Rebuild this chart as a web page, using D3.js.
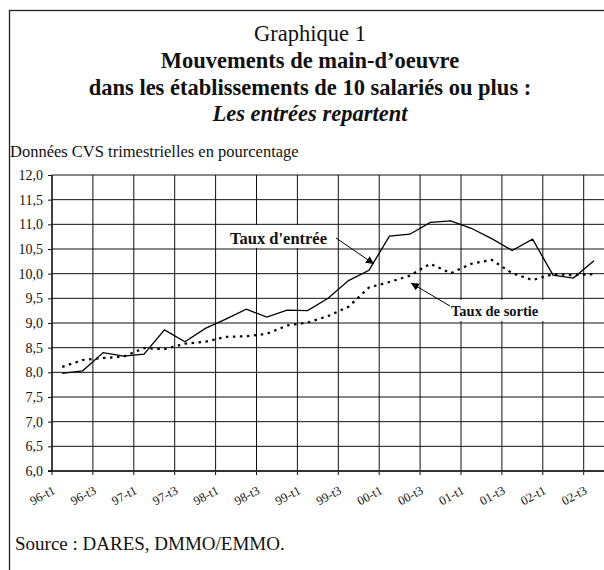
<!DOCTYPE html>
<html>
<head>
<meta charset="utf-8">
<script src="https://cdn.jsdelivr.net/npm/d3@7"></script>
<style>
  body { margin: 0; background: #fff; }
  svg { display: block; font-family: "Liberation Serif", "Times New Roman", serif; }
</style>
</head>
<body>
<div id="chart"></div>
<script>
const quarters = [
  "96-t1", "96-t2", "96-t3", "96-t4",
  "97-t1", "97-t2", "97-t3", "97-t4",
  "98-t1", "98-t2", "98-t3", "98-t4",
  "99-t1", "99-t2", "99-t3", "99-t4",
  "00-t1", "00-t2", "00-t3", "00-t4",
  "01-t1", "01-t2", "01-t3", "01-t4",
  "02-t1", "02-t2", "02-t3",
];
// Taux d'entrée (ligne pleine)
const entrees = [
  7.98, 8.03, 8.40, 8.33, 8.37, 8.86, 8.62, 8.89, 9.08, 9.28, 9.12, 9.26,
  9.25, 9.50, 9.86, 10.07, 10.76, 10.80, 11.04, 11.07, 10.92, 10.71, 10.47,
  10.70, 9.97, 9.91, 10.26,
];
// Taux de sortie (pointillés)
const sorties = [
  8.11, 8.25, 8.29, 8.32, 8.49, 8.47, 8.58, 8.62, 8.72, 8.73, 8.78, 8.95,
  9.01, 9.14, 9.33, 9.72, 9.83, 9.96, 10.20, 10.01, 10.20, 10.28, 10.01,
  9.87, 9.99, 9.97, 9.99,
];
const yTicks = [6, 6.5, 7, 7.5, 8, 8.5, 9, 9.5, 10, 10.5, 11, 11.5, 12];

const width = 604,
  height = 570;
const plot = { left: 52, top: 175, bottom: 471, step: 20.45 };

const svg = d3
  .select("#chart")
  .append("svg")
  .attr("width", width)
  .attr("height", height)
  .style("background", "white");

// cadre
svg
  .append("rect")
  .attr("x", 9.5)
  .attr("y", 10.5)
  .attr("width", 640)
  .attr("height", 600)
  .attr("fill", "none")
  .attr("stroke", "#222")
  .attr("stroke-width", 1.3);

// Titres
const cx = 310;
const title = (txt, yy, weight, style) =>
  svg.append("text").attr("x", cx).attr("y", yy).attr("text-anchor", "middle")
    .style("font-size", "22.5px").style("font-weight", weight).style("font-style", style)
    .attr("fill", "#111").text(txt);
title("Graphique 1", 41, "normal", "normal");
title("Mouvements de main-d\u2019oeuvre", 68, "bold", "normal");
title("dans les établissements de 10 salariés ou plus :", 95, "bold", "normal");
title("Les entrées repartent", 121, "bold", "italic");

svg.append("text").attr("x", 10).attr("y", 157).attr("fill", "#111")
  .style("font-size", "16.5px").text("Données CVS trimestrielles en pourcentage");
svg.append("text").attr("x", 15).attr("y", 550).attr("fill", "#111")
  .style("font-size", "19px").text("Source : DARES, DMMO/EMMO.");

// Echelles
const x = d3
  .scaleBand()
  .domain(quarters)
  .range([plot.left, plot.left + quarters.length * plot.step])
  .paddingInner(0)
  .paddingOuter(0);
const y = d3.scaleLinear().domain([6, 12]).range([plot.bottom, plot.top]);
const px = (i) => x(quarters[i]) + x.bandwidth() / 2;

const g = svg.append("g");

// grille horizontale
g.selectAll(".hgrid")
  .data(yTicks)
  .join("line")
  .attr("x1", plot.left)
  .attr("x2", x.range()[1])
  .attr("y1", (d) => y(d))
  .attr("y2", (d) => y(d))
  .attr("stroke", "#111")
  .attr("stroke-width", 1);

// grille verticale : une ligne tous les deux trimestres
const labelled = quarters.filter((q, i) => i % 2 === 0);
g.selectAll(".vgrid")
  .data(labelled)
  .join("line")
  .attr("x1", (d) => x(d))
  .attr("x2", (d) => x(d))
  .attr("y1", plot.top)
  .attr("y2", plot.bottom + 4)
  .attr("stroke", "#111")
  .attr("stroke-width", 1);

// axes
g.append("line")
  .attr("x1", plot.left - 4).attr("x2", x.range()[1])
  .attr("y1", plot.bottom).attr("y2", plot.bottom)
  .attr("stroke", "#333").attr("stroke-width", 2);
g.append("line")
  .attr("x1", plot.left).attr("x2", plot.left)
  .attr("y1", plot.top).attr("y2", plot.bottom)
  .attr("stroke", "#111").attr("stroke-width", 1.2);

// axe Y
const yAxis = d3
  .axisLeft(y)
  .tickValues(yTicks)
  .tickSize(4)
  .tickFormat((d) => d3.format(".1f")(d).replace(".", ","));
const ya = svg.append("g").attr("transform", `translate(${plot.left},0)`).call(yAxis);
ya.select(".domain").remove();
ya.selectAll("line").attr("stroke", "#111");
ya.selectAll("text")
  .style("font-family", '"Liberation Serif", serif')
  .style("font-size", "14px")
  .style("fill", "#111")
  .attr("x", -9);

// axe X
const xAxis = d3.axisBottom(x).tickValues(labelled).tickSize(0).offset(0);
const xa = svg.append("g").attr("transform", `translate(0,${plot.bottom})`).call(xAxis);
xa.select(".domain").remove();
xa.selectAll(".tick").attr("transform", (d) => `translate(${x(d)},0)`);
xa.selectAll("text")
  .style("font-family", '"Liberation Serif", serif')
  .style("font-size", "12.5px")
  .style("fill", "#111")
  .attr("text-anchor", "end")
  .attr("dy", null)
  .attr("y", 0)
  .attr("transform", "translate(4,22) rotate(-28)");

// courbes
const line = (vals) =>
  d3
    .line()
    .x((d, i) => px(i))
    .y((d) => y(d))(vals);

g.append("path")
  .attr("d", line(sorties))
  .attr("fill", "none")
  .attr("stroke", "#000")
  .attr("stroke-width", 2.2)
  .attr("stroke-dasharray", "2.5,4.5");

g.append("path")
  .attr("d", line(entrees))
  .attr("fill", "none")
  .attr("stroke", "#000")
  .attr("stroke-width", 1.3);

// annotations
svg
  .append("defs")
  .append("marker")
  .attr("id", "arrow")
  .attr("viewBox", "0 0 10 10")
  .attr("refX", 10)
  .attr("refY", 5)
  .attr("markerWidth", 8)
  .attr("markerHeight", 8)
  .attr("markerUnits", "userSpaceOnUse")
  .attr("orient", "auto")
  .append("path")
  .attr("d", "M0,0 L10,5 L0,10 z")
  .attr("fill", "#000");

const annotations = [
  { text: "Taux d'entrée", size: 16.5, tx: 230, ty: 244, box: [225, 225, 112, 23], from: [336, 238], to: [374, 264] },
  { text: "Taux de sortie", size: 14.5, tx: 451, ty: 316, box: [447, 300, 97, 21], from: [450, 306], to: [411, 283] },
];
annotations.forEach((a) => {
  svg.append("rect")
    .attr("x", a.box[0]).attr("y", a.box[1])
    .attr("width", a.box[2]).attr("height", a.box[3])
    .attr("fill", "#fff");
  svg.append("text")
    .attr("x", a.tx).attr("y", a.ty).attr("fill", "#111")
    .style("font-size", a.size + "px").style("font-weight", "bold")
    .text(a.text);
  svg.append("line")
    .attr("x1", a.from[0]).attr("y1", a.from[1])
    .attr("x2", a.to[0]).attr("y2", a.to[1])
    .attr("stroke", "#000").attr("stroke-width", 1)
    .attr("marker-end", "url(#arrow)");
});
</script>
</body>
</html>
